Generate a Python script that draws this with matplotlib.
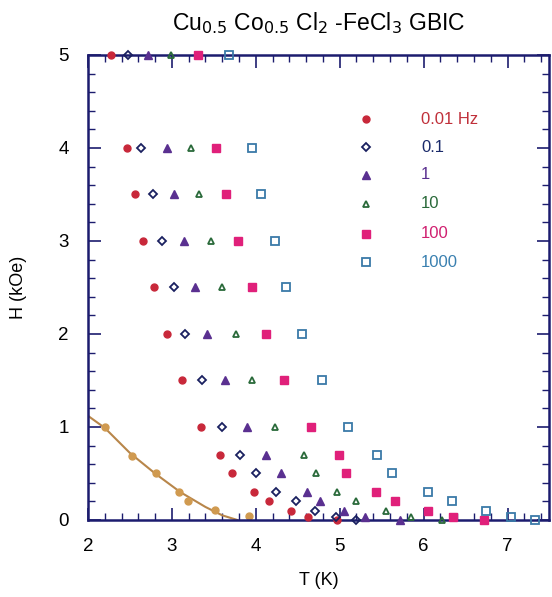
import numpy as np
import matplotlib.pyplot as plt
from matplotlib.ticker import MultipleLocator

# frequency labels
freqs = ['0.01 Hz', '0.1', '1', '10', '100', '1000']

# field rows (kOe), shared by the upper part of every series
H_rows = [5, 4, 3.5, 3, 2.5, 2, 1.5, 1, 0.7, 0.5, 0.3, 0.2, 0.1, 0.03, 0.0]

# T (K) read for each frequency
T_001 = [2.28, 2.46, 2.56, 2.65, 2.79, 2.94, 3.12, 3.35, 3.57, 3.72, 3.98, 4.16, 4.42, 4.62, 4.97]
T_01 = [2.48, 2.63, 2.77, 2.88, 3.02, 3.16, 3.36, 3.60, 3.81, 4.00, 4.24, 4.48, 4.70, 4.95, 5.20]
T_1 = [2.71, 2.94, 3.02, 3.15, 3.27, 3.42, 3.63, 3.90, 4.12, 4.30, 4.61, 4.77, 5.05, 5.30, 5.72]
T_10 = [2.99, 3.23, 3.32, 3.47, 3.60, 3.77, 3.96, 4.23, 4.57, 4.72, 4.97, 5.19, 5.55, 5.85, 6.22]
T_100 = [3.31, 3.52, 3.65, 3.79, 3.95, 4.12, 4.34, 4.66, 4.99, 5.08, 5.43, 5.66, 6.05, 6.35, 6.72]
T_1000 = [3.68, 3.95, 4.06, 4.23, 4.36, 4.55, 4.79, 5.10, 5.45, 5.62, 6.05, 6.34, 6.74, 7.04, 7.33]

# AT-like line at low T
T_line = [2.0, 2.2, 2.5, 2.8, 3.1, 3.4, 3.6, 3.78]
H_line = [1.12, 0.99, 0.72, 0.50, 0.30, 0.14, 0.05, 0.0]
T_line_pts = [2.20, 2.52, 2.81, 3.09, 3.19, 3.51, 3.92]
H_line_pts = [1.00, 0.69, 0.51, 0.30, 0.20, 0.11, 0.04]

navy = '#1c1c6e'
styles = [
    dict(marker='o', color='#c8283a', mfc='#c8283a', ms=5),
    dict(marker='D', color='#1a2060', mfc='none', ms=4, mew=1.3),
    dict(marker='^', color='#5a3090', mfc='#5a3090', ms=5.5),
    dict(marker='^', color='#2a6a3a', mfc='none', ms=5, mew=1.3),
    dict(marker='s', color='#e0207a', mfc='#e0207a', ms=5.5),
    dict(marker='s', color='#3a7aa8', mfc='none', ms=5.5, mew=1.3),
]
text_colors = ['#c0303a', '#1a2a6a', '#5a3090', '#2a6a3a', '#d02070', '#3a80b0']
series = [T_001, T_01, T_1, T_10, T_100, T_1000]

plt.rcParams['font.family'] = ['Liberation Sans', 'DejaVu Sans']
fig = plt.figure(figsize=(5.52, 5.97), dpi=100)
ax = fig.add_axes([0.1594, 0.129, 0.836, 0.779])

for T, st in zip(series, styles):
    ax.plot(T, H_rows, linestyle='none', clip_on=False, zorder=3, **st)

ax.plot(T_line, H_line, color='#b8864a', lw=1.5, zorder=2)
ax.plot(T_line_pts, H_line_pts, 'o', color='#d09a50', ms=5, zorder=2)

# legend drawn by hand
leg_H = [4.31, 4.01, 3.71, 3.40, 3.08, 2.77]
for i in range(6):
    ax.plot([5.31], [leg_H[i]], linestyle='none', **styles[i])
    ax.text(5.97, leg_H[i], freqs[i], color=text_colors[i], fontsize=12, va='center')

ax.set_xlim(2, 7.5)
ax.set_ylim(0, 5)
ax.xaxis.set_major_locator(MultipleLocator(1))
ax.xaxis.set_minor_locator(MultipleLocator(0.2))
ax.yaxis.set_major_locator(MultipleLocator(1))
ax.yaxis.set_minor_locator(MultipleLocator(0.2))
ax.tick_params(which='both', direction='in', top=True, right=True, colors='black',
               labelsize=13.5)
ax.tick_params(which='major', length=9, width=1.2, color=navy)
ax.tick_params(which='minor', length=5, width=1.0, color=navy)
ax.tick_params(axis='x', which='major', pad=13)
ax.tick_params(axis='y', which='major', pad=14)
for s in ax.spines.values():
    s.set_color(navy)
    s.set_linewidth(1.8)

ax.set_xlabel('T (K)', fontsize=13, labelpad=12)
ax.set_ylabel('H (kOe)', fontsize=13, labelpad=22)
ax.set_title(r'Cu$_{0.5}$ Co$_{0.5}$ Cl$_2$ -FeCl$_3$ GBIC', fontsize=16.5, pad=18)

plt.savefig('out.png', dpi=100)
